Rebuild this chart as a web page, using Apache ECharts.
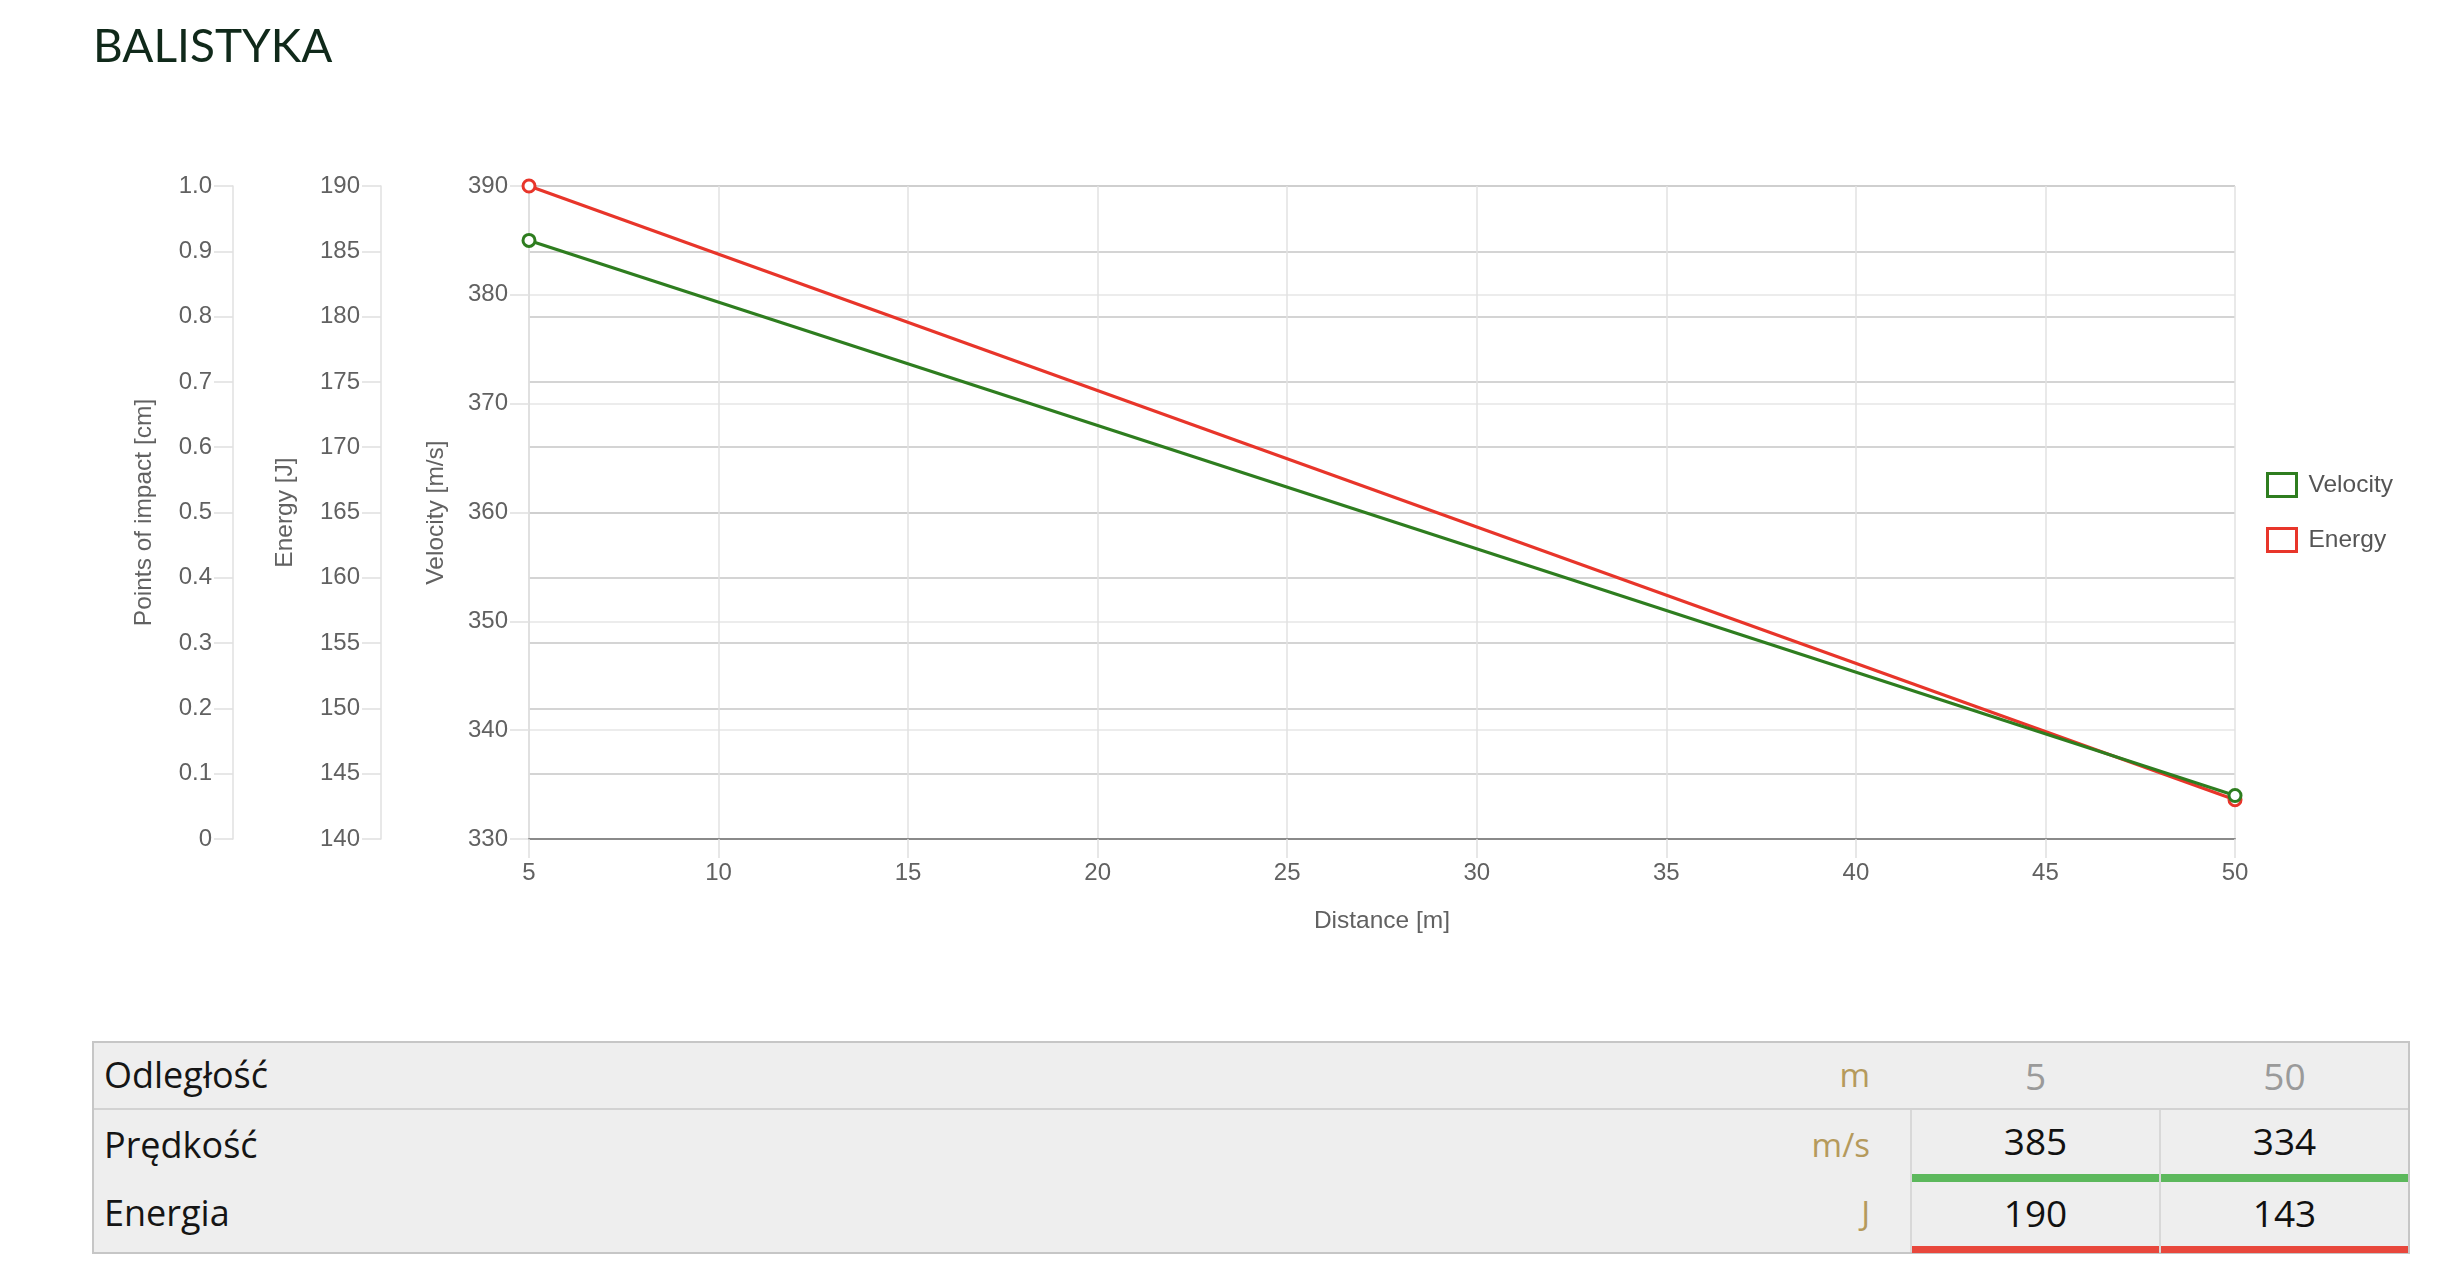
<!DOCTYPE html>
<html>
<head>
<meta charset="utf-8">
<script src="https://cdn.jsdelivr.net/npm/echarts/dist/echarts.min.js"></script>
<style>
html,body{margin:0;padding:0;background:#fff;width:2456px;height:1264px;overflow:hidden;}
#chart{position:absolute;left:0;top:0;width:2456px;height:1264px;}
#title{position:absolute;left:93px;top:22px;height:46px;line-height:46px;font-family:Lato,sans-serif;font-size:46px;color:#10291a;white-space:nowrap;}
#table{position:absolute;left:92px;top:1041px;width:2318px;height:213px;background:#eeeeee;box-shadow:inset 0 0 0 2px #c6c6c6;}
.t{position:absolute;white-space:nowrap;font-family:"Open Sans",sans-serif;}
.b{position:absolute;}
</style>
</head>
<body>
<div id="chart"></div>
<div id="title">BALISTYKA</div>
<div id="table"></div>
<script>
// ---- data ----
const distances = [5, 50];
const velocity = [385, 334];
const energy = [190, 143];
const seriesNames = ['Velocity', 'Energy'];
const rowLabels = ['Odległość', 'Prędkość', 'Energia'];
const rowUnits = ['m', 'm/s', 'J'];

const GREEN = '#2e7d1f';
const RED = '#e8352a';
const TXT = '#616161';
const FONT = 'Liberation Sans, Arial, Helvetica, sans-serif';
const LBL = 24;
const NAME = 24.5;

const chart = echarts.init(document.getElementById('chart'));

function yAxisBase(o) {
  return Object.assign({
    type: 'value',
    position: 'left',
    nameLocation: 'middle',
    nameRotate: 90,
    nameMoveOverlap: false,
    nameTextStyle: { color: TXT, fontSize: NAME, fontFamily: FONT },
    axisLine: { show: true, lineStyle: { color: '#e0e0e0', width: 1.5 } },
    axisTick: { show: true, length: 19, lineStyle: { color: '#e0e0e0', width: 1.5 } },
    axisLabel: { margin: 21, color: TXT, fontSize: LBL, fontFamily: FONT }
  }, o);
}

const option = {
  animation: false,
  backgroundColor: '#ffffff',
  grid: { left: 529, right: 221, top: 186, bottom: 425, containLabel: false, outerBoundsMode: 'none' },
  legend: {
    orient: 'vertical',
    left: 2266,
    top: 472,
    padding: 0,
    itemWidth: 29,
    itemHeight: 23,
    itemGap: 29,
    icon: 'rect',
    textStyle: { fontSize: NAME, color: '#555555', fontFamily: FONT, padding: [0, 0, 0, 7] },
    data: [
      { name: seriesNames[0], itemStyle: { color: '#ffffff', borderColor: GREEN, borderWidth: 3 } },
      { name: seriesNames[1], itemStyle: { color: '#ffffff', borderColor: RED, borderWidth: 3 } }
    ]
  },
  xAxis: {
    type: 'value',
    min: 5, max: 50, interval: 5,
    name: 'Distance [m]',
    nameLocation: 'middle',
    nameGap: 70,
    nameMoveOverlap: false,
    nameTextStyle: { color: TXT, fontSize: NAME, fontFamily: FONT },
    z: 3,
    axisLine: { show: true, lineStyle: { color: '#8a8a8a', width: 2 } },
    axisTick: { show: true, length: 19, lineStyle: { color: '#e0e0e0', width: 1.5 } },
    axisLabel: { margin: 22, color: TXT, fontSize: LBL, fontFamily: FONT },
    splitLine: { show: true, lineStyle: { color: '#e2e2e2', width: 1.5 } }
  },
  yAxis: [
    yAxisBase({
      name: 'Velocity [m/s]', offset: 0, nameGap: 80,
      min: 330, max: 390, interval: 10,
      axisLine: { show: true, lineStyle: { color: '#cccccc', width: 1.5 } },
      splitLine: { show: true, lineStyle: { color: '#e6e6e6', width: 1.5 } }
    }),
    yAxisBase({
      name: 'Energy [J]', offset: 148, nameGap: 83,
      min: 140, max: 190, interval: 5,
      splitLine: { show: true, lineStyle: { color: '#c6c6c6', width: 1.5 } }
    }),
    yAxisBase({
      name: 'Points of impact [cm]', offset: 296, nameGap: 76,
      min: 0, max: 1, interval: 0.1,
      axisLabel: { margin: 21, color: TXT, fontSize: LBL, fontFamily: FONT,
        formatter: v => (v === 0 ? '0' : v.toFixed(1)) },
      splitLine: { show: false }
    })
  ],
  series: [
    {
      name: seriesNames[1], type: 'line', yAxisIndex: 1,
      data: distances.map((d, i) => [d, energy[i]]),
      color: RED,
      lineStyle: { color: RED, width: 3.2 },
      symbol: 'circle', symbolSize: 12,
      itemStyle: { color: '#ffffff', borderColor: RED, borderWidth: 3 },
      clip: false, z: 3
    },
    {
      name: seriesNames[0], type: 'line', yAxisIndex: 0,
      data: distances.map((d, i) => [d, velocity[i]]),
      color: GREEN,
      lineStyle: { color: GREEN, width: 3.2 },
      symbol: 'circle', symbolSize: 12,
      itemStyle: { color: '#ffffff', borderColor: GREEN, borderWidth: 3 },
      clip: false, z: 4
    }
  ]
};
chart.setOption(option);

// ---- table below the chart ----
const table = document.getElementById('table');
function add(cls, css, text) {
  const d = document.createElement('div');
  d.className = cls;
  Object.assign(d.style, css);
  if (text !== undefined) d.textContent = text;
  table.appendChild(d);
  return d;
}
// row divider & cell borders
add('b', { left: '2px', top: '67px', width: '2314px', height: '2px', background: '#d2d2d2' });
add('b', { left: '1818px', top: '69px', width: '2px', height: '142px', background: '#d8d8d8' });
add('b', { left: '2067px', top: '69px', width: '2px', height: '142px', background: '#d8d8d8' });
// coloured bars under the value cells
const cols = [{ l: 1820, w: 247 }, { l: 2069, w: 247 }];
cols.forEach(c => {
  add('b', { left: c.l + 'px', top: '133px', width: c.w + 'px', height: '8px', background: '#5cb85c' });
  add('b', { left: c.l + 'px', top: '205px', width: c.w + 'px', height: '7px', background: '#e8473c' });
});
const rowCenters = [35, 105, 173];
const valueCenters = [36, 101, 173];
const rowValues = [distances, velocity, energy];
rowLabels.forEach((lab, r) => {
  const lh = 50;
  add('t', { left: '12px', top: (rowCenters[r] - lh / 2 - 1) + 'px', height: lh + 'px', lineHeight: lh + 'px',
    fontSize: '36px', color: '#151515' }, lab);
  add('t', { right: '540px', top: (rowCenters[r] - lh / 2 - 1) + 'px', height: lh + 'px', lineHeight: lh + 'px',
    fontSize: '33px', color: '#b59a5c', textAlign: 'right' }, rowUnits[r]);
  rowValues[r].forEach((v, c) => {
    add('t', { left: cols[c].l + 'px', width: cols[c].w + 'px', top: (valueCenters[r] - lh / 2 - 1) + 'px',
      height: lh + 'px', lineHeight: lh + 'px', fontSize: '37px', textAlign: 'center',
      color: r === 0 ? '#9a9a9a' : '#111111' }, String(v));
  });
});
</script>
</body>
</html>
